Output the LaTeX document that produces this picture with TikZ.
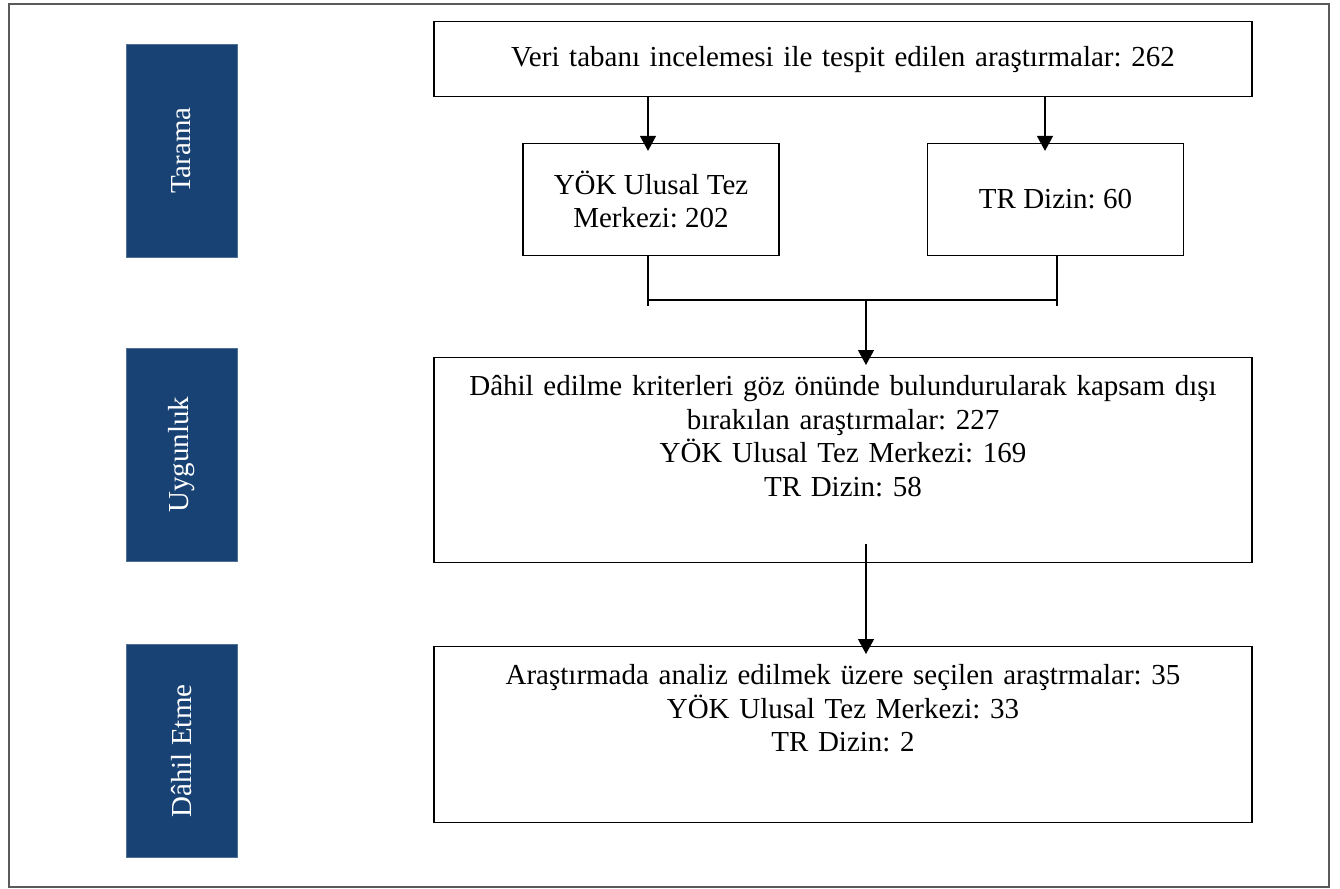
\documentclass[tikz,border=0pt]{standalone}
\usepackage{fontspec}
\setmainfont{Liberation Serif}
\frenchspacing
\usetikzlibrary{arrows.meta}
\definecolor{phaseblue}{RGB}{24,66,116}
\definecolor{phaseedge}{RGB}{80,112,152}
\definecolor{framegray}{RGB}{90,90,90}
\tikzset{
    every node/.style={font=\fontsize{14.5}{16.75}\selectfont}
}
\tikzset{
    phase/.style={rotate=90, fill=phaseblue, draw=phaseedge, line width=0.5pt,
    	text=white, minimum width=106.5pt, minimum height=55.5pt, inner sep=0pt},
    smallbox/.style={draw, line width=0.6pt, align=center, minimum width=128pt,
    	minimum height=56pt, inner sep=0pt},
    widebox/.style={draw, line width=0.6pt, anchor=north, text width=400pt,
    	align=center, inner xsep=4.5pt, inner ysep=0pt}
}
\tikzset{
    arrow/.style={line width=0.6pt, -{Triangle[width=8pt,length=7.5pt]}, shorten >=-4pt},
    link/.style={line width=0.6pt}
}
\begin{document}
\begin{tikzpicture}[x=0.5pt, y=-0.5pt]
	\useasboundingbox (0,0) rectangle (1340,889);
	\draw[framegray, line width=0.8pt] (9,4) rectangle (1329,887);

	\node (tarama) [phase] at (181.5, 150.5) {Tarama};
	\node (uygunluk) [phase] at (181.5, 454.5) {Uygunluk};
	\node (dahiletme) [phase] at (181.5, 751) {Dâhil Etme};

	\node (veri) [widebox, minimum height=37.5pt] at (843, 21) {Veri tabanı incelemesi ile tespit edilen araştırmalar: 262};
	\node (yok) [smallbox] at (651, 199.5) {YÖK Ulusal Tez\\Merkezi: 202};
	\node (tr) [smallbox] at (1055.5, 199.5) {TR Dizin: 60};
	\node (uyg) [widebox, text height=19pt, text depth=83.5pt] at (843, 357) {Dâhil edilme kriterleri göz önünde bulundurularak kapsam dışı\\bırakılan araştırmalar: 227\\YÖK Ulusal Tez Merkezi: 169\\TR Dizin: 58};
	\node (dahil) [widebox, text height=19pt, text depth=69pt] at (843, 646) {Araştırmada analiz edilmek üzere seçilen araştrmalar: 35\\YÖK Ulusal Tez Merkezi: 33\\TR Dizin: 2};

	\coordinate (yokx) at (648, 0);
	\coordinate (trx) at (1045, 0);
	\coordinate (jl) at (648, 306);
	\coordinate (jr) at (1057, 306);
	\coordinate (jm) at (866, 300);
	\coordinate (st) at (866, 544);

	\draw[arrow] (veri.south -| yokx) -- (yok.north -| yokx);
	\draw[arrow] (veri.south -| trx) -- (tr.north -| trx);
	\draw[link] (yok.south -| jl) -- (jl);
	\draw[link] (tr.south -| jr) -- (jr);
	\draw[link] (jl |- jm) -- (jr |- jm);
	\draw[arrow] (jm) -- (uyg.north -| jm);
	\draw[arrow] (st) -- (dahil.north -| st);
\end{tikzpicture}
\end{document}
